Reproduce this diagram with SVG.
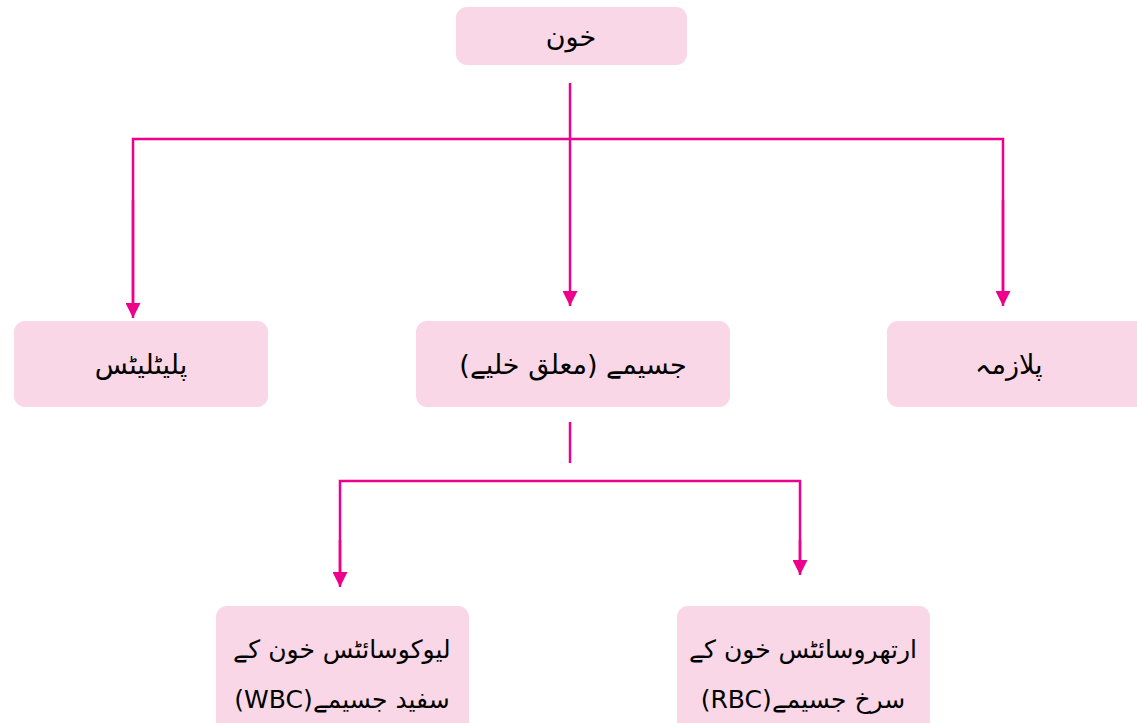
<svg xmlns="http://www.w3.org/2000/svg" width="1137" height="723" viewBox="0 0 1137 723">
<style>
.box{fill:#f9d7e6}
.t{font-family:"DejaVu Sans","Noto Sans",sans-serif;font-size:27px;fill:#000;text-anchor:middle;direction:rtl}
.s{font-size:25px}
.c{stroke:#ec008c;stroke-width:2.5;fill:none}
</style>
<defs>
<marker id="ah" viewBox="0 0 10 10" refX="10" refY="5" markerWidth="15" markerHeight="15" markerUnits="userSpaceOnUse" orient="auto">
<path d="M0,0 L10,5 L0,10 Z" fill="#ec008c"/>
</marker>
</defs>
<rect width="1137" height="723" fill="#fff"/>
<g id="connectors">
<line class="c" x1="570" y1="83" x2="570" y2="306" marker-end="url(#ah)"/>
<path class="c" d="M133,306 L133,139 L1003,139 L1003,300"/>
<line class="c" x1="133" y1="200" x2="133" y2="318" marker-end="url(#ah)"/>
<line class="c" x1="1003" y1="200" x2="1003" y2="306" marker-end="url(#ah)"/>
<line class="c" x1="570" y1="422" x2="570" y2="463"/>
<path class="c" d="M340,580 L340,481 L800,481 L800,570"/>
<line class="c" x1="340" y1="540" x2="340" y2="587" marker-end="url(#ah)"/>
<line class="c" x1="800" y1="540" x2="800" y2="575" marker-end="url(#ah)"/>
</g>
<g id="n-blood">
<rect class="box" x="456" y="7" width="231" height="58" rx="11"/>
<text class="t" x="571" y="46">خون</text>
</g>
<g id="n-platelets">
<rect class="box" x="14" y="321" width="254" height="86" rx="11"/>
<text class="t" x="141" y="374">پلیٹلیٹس</text>
</g>
<g id="n-corpuscles">
<rect class="box" x="416" y="321" width="314" height="86" rx="11"/>
<text class="t" x="573" y="374">جسیمے (معلق خلیے)</text>
</g>
<g id="n-plasma">
<rect class="box" x="887" y="321" width="260" height="86" rx="11"/>
<text class="t" x="1009" y="374">پلازمہ</text>
</g>
<g id="n-wbc">
<rect class="box" x="216" y="606" width="253" height="130" rx="11"/>
<text class="t s" x="342" y="658">لیوکوسائٹس خون کے</text>
<text class="t s" x="342" y="708">سفید جسیمے(WBC)</text>
</g>
<g id="n-rbc">
<rect class="box" x="677" y="606" width="253" height="130" rx="11"/>
<text class="t s" x="803" y="658">ارتھروسائٹس خون کے</text>
<text class="t s" x="803" y="708">سرخ جسیمے(RBC)</text>
</g>
</svg>
